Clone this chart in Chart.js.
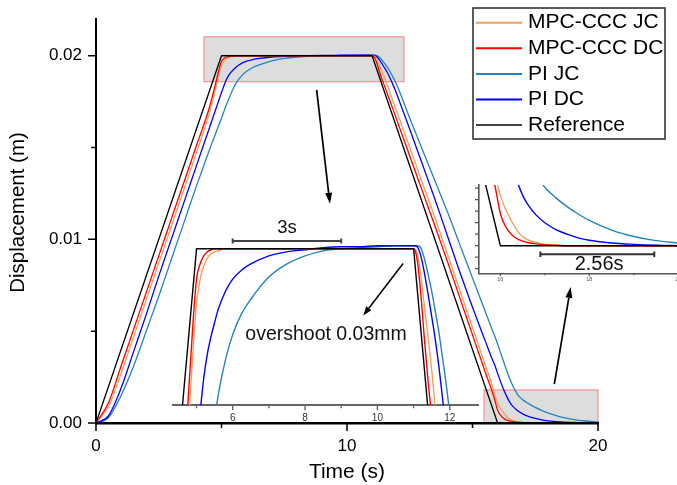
<!DOCTYPE html>
<html><head><meta charset="utf-8">
<script src="https://cdn.jsdelivr.net/npm/chart.js@4.4.1/dist/chart.umd.min.js"></script>
<style>
html,body{margin:0;padding:0;background:#fff;overflow:hidden;width:677px;height:485px;}
#wrap{position:relative;width:677px;height:485px;overflow:hidden;}
canvas{position:absolute;}
</style></head><body>
<div id="wrap">
<canvas id="main" width="677" height="485" style="left:0;top:0;width:677px;height:485px"></canvas>
<canvas id="inset1" width="350" height="240" style="left:150px;top:200px;width:350px;height:240px"></canvas>
<canvas id="inset2" width="250" height="140" style="left:440px;top:160px;width:250px;height:140px"></canvas>
</div>
<script>
const FONT = "'Liberation Sans', Arial, sans-serif";

// ---------- data (time in s, displacement in m) ----------
const time = [0, 0.5, 1, 1.5, 2, 2.5, 3, 3.5, 4, 4.5,
  4.75, 4.9, 5, 5.1, 5.2, 5.3, 5.4, 5.5, 5.6, 5.8,
  6, 6.25, 6.5, 7, 7.5, 8, 8.5, 9, 9.5, 10, 10.5, 11,
  11.1, 11.2, 11.3, 11.4, 11.5, 11.6, 11.7, 11.8, 11.9, 12,
  12.5, 13, 13.5, 14, 14.5, 15, 15.5, 15.75, 15.9, 16,
  16.1, 16.2, 16.3, 16.4, 16.5, 16.6, 16.8, 17, 17.25, 17.5, 17.75, 18, 18.5, 19, 19.5, 20];

const mpcDC = [0, 0.0011, 0.0031, 0.0051, 0.0071, 0.0091, 0.0111, 0.0131, 0.0151, 0.0171,
  0.0184, 0.01925, 0.0197, 0.01985, 0.01993, 0.01997, 0.01999, 0.02, 0.02, 0.02,
  0.02, 0.02, 0.02, 0.02, 0.02, 0.02, 0.02, 0.02, 0.02, 0.02, 0.02, 0.02,
  0.01989, 0.01955, 0.0191, 0.01869, 0.01834, 0.01796, 0.01758, 0.0172, 0.01682, 0.01644,
  0.01454, 0.01264, 0.01074, 0.0088, 0.0068, 0.0048, 0.0028, 0.00185, 0.0012, 0.0007,
  0.00045, 0.0003, 0.0002, 0.00014, 0.0001, 0.00007, 0.00004, 0.00002, 0.00001, 0, 0, 0, 0, 0, 0, 0];

const mpcJC = [0, 0.0009, 0.0027, 0.0047, 0.0067, 0.0087, 0.0107, 0.0127, 0.0147, 0.0168,
  0.0181, 0.01898, 0.01946, 0.0197, 0.01983, 0.01991, 0.01995, 0.01997, 0.01998, 0.02,
  0.02, 0.02, 0.02, 0.02, 0.02, 0.02, 0.02, 0.02, 0.02, 0.02, 0.02, 0.02,
  0.01996, 0.01973, 0.01943, 0.01913, 0.0188, 0.01842, 0.01804, 0.01766, 0.01728, 0.0169,
  0.015, 0.0131, 0.0112, 0.0092, 0.0072, 0.0052, 0.0032, 0.0022, 0.00148, 0.0011,
  0.00083, 0.00063, 0.00045, 0.0003, 0.0002, 0.00014, 0.00007, 0.00003, 0.00001, 0, 0, 0, 0, 0, 0, 0];

const piDC = [0, 0.0004, 0.0019, 0.0039, 0.0059, 0.008, 0.01, 0.012, 0.014, 0.016,
  0.017, 0.0176, 0.018, 0.01838, 0.01872, 0.01896, 0.01913, 0.01927, 0.0194, 0.01958,
  0.0197, 0.01979, 0.01985, 0.01993, 0.01997, 0.01999, 0.02001, 0.02002, 0.02002, 0.02003, 0.02003, 0.02003,
  0.02002, 0.01993, 0.01976, 0.01955, 0.01933, 0.0191, 0.01883, 0.01852, 0.0182, 0.01785,
  0.016, 0.0141, 0.0122, 0.0102, 0.0082, 0.0063, 0.0045, 0.0036, 0.0031, 0.0027,
  0.00232, 0.00196, 0.00163, 0.00134, 0.0011, 0.00092, 0.00067, 0.0005, 0.00035, 0.00025, 0.00017, 0.00012, 0.00006, 0.00003, 0.00001, 0];

const piJC = [0, 0.0003, 0.0015, 0.0031, 0.005, 0.0069, 0.0089, 0.0109, 0.0129, 0.0148,
  0.0157, 0.01625, 0.0166, 0.01698, 0.01735, 0.01768, 0.018, 0.0183, 0.01855, 0.0189,
  0.01915, 0.01936, 0.0195, 0.01972, 0.01985, 0.01993, 0.01998, 0.02, 0.02001, 0.02002, 0.02003, 0.02003,
  0.02003, 0.02001, 0.0199, 0.01975, 0.01958, 0.01938, 0.01917, 0.01892, 0.01866, 0.01836,
  0.0166, 0.0149, 0.0132, 0.0115, 0.0097, 0.0079, 0.0061, 0.0052, 0.00468, 0.0043,
  0.0039, 0.0035, 0.0031, 0.0027, 0.00236, 0.00204, 0.00155, 0.00127, 0.00104, 0.00085, 0.00069, 0.00055, 0.00034, 0.0002, 0.00011, 0.00006];

const refTime = [0, 5, 11, 16, 20];
const refDisp = [0, 0.02, 0.02, 0, 0];

const seriesNames = ['MPC-CCC JC', 'MPC-CCC DC', 'PI JC', 'PI DC', 'Reference'];
const seriesColors = ['#f5a05a', '#ff0000', '#2283c0', '#0000ff', '#000000'];

// ticks
const xMajor = [0, 10, 20], xMinor = [5, 15];
const yMajor = [0, 0.01, 0.02], yMinor = [0.005, 0.015];
const inset1Major = [6, 8, 10, 12], inset1Minor = [5, 7, 9, 11];
const inset2XMajor = [16, 18, 20], inset2XMinor = [17, 19];
const inset2YTicks = [-0.0005, -0.00025, 0, 0.00025, 0.0005, 0.00075, 0.001, 0.00125];

// zoom regions [tStart, tEnd, dispLow, dispHigh]
const zoomBox1 = [4.3, 12.27, 0.01859, 0.02103];
const zoomBox2 = [15.46, 20, 0, 0.0018];

// annotations (data coordinates)
const arrowMain1 = [8.79, 0.01814, 9.32, 0.01194];
const arrowMain2 = [18.26, 0.00212, 18.91, 0.00741];
const bar3s = {from: 6, to: 9, at: 0.020077, label: '3s', labelX: 7.5, labelY: 0.020206};
const overshootNote = {text: 'overshoot 0.03mm', x: 8.58, y: 0.01915, from: [10.71, 0.019855], to: [9.61, 0.01934]};
const bar256 = {from: 16.9, to: 19.46, at: -0.000187, label: '2.56s', labelX: 18.22, labelY: -0.000408};

// ---------- helpers ----------
function pts(t, v) { return t.map((x, i) => ({x: x, y: v[i]})); }

function makeDatasets(lw) {
  const list = [
    {label: 'Reference', data: pts(refTime, refDisp), color: seriesColors[4], mono: false},
    {label: 'MPC-CCC DC', data: pts(time, mpcDC), color: seriesColors[1], mono: true},
    {label: 'MPC-CCC JC', data: pts(time, mpcJC), color: seriesColors[0], mono: true},
    {label: 'PI DC', data: pts(time, piDC), color: seriesColors[3], mono: true},
    {label: 'PI JC', data: pts(time, piJC), color: seriesColors[2], mono: true}
  ];
  return list.map(s => ({
    label: s.label, data: s.data, borderColor: s.color, backgroundColor: s.color,
    borderWidth: lw, pointRadius: 0, fill: false, tension: 0,
    cubicInterpolationMode: s.mono ? 'monotone' : 'default'
  }));
}

function zeroPad(s) { s.paddingLeft = 0; s.paddingRight = 0; s.paddingTop = 0; s.paddingBottom = 0; }

function arrow(ctx, x1, y1, x2, y2, head, half, lw) {
  const a = Math.atan2(y2 - y1, x2 - x1);
  const bx = x2 - head * Math.cos(a), by = y2 - head * Math.sin(a);
  ctx.save();
  ctx.strokeStyle = '#000'; ctx.fillStyle = '#000'; ctx.lineWidth = lw;
  ctx.beginPath(); ctx.moveTo(x1, y1); ctx.lineTo(bx, by); ctx.stroke();
  ctx.beginPath(); ctx.moveTo(x2, y2);
  ctx.lineTo(bx + half * Math.sin(a), by - half * Math.cos(a));
  ctx.lineTo(bx - half * Math.sin(a), by + half * Math.cos(a));
  ctx.closePath(); ctx.fill();
  ctx.restore();
}

function hbar(ctx, x1, x2, y, cap, color, lw) {
  ctx.save();
  ctx.strokeStyle = color; ctx.lineWidth = lw;
  ctx.beginPath();
  ctx.moveTo(x1, y); ctx.lineTo(x2, y);
  ctx.moveTo(x1, y - cap); ctx.lineTo(x1, y + cap);
  ctx.moveTo(x2, y - cap); ctx.lineTo(x2, y + cap);
  ctx.stroke();
  ctx.restore();
}

function text(ctx, str, x, y, size, color, align) {
  ctx.save();
  ctx.font = size + 'px ' + FONT;
  ctx.fillStyle = color; ctx.textAlign = align || 'center'; ctx.textBaseline = 'middle';
  ctx.fillText(str, x, y);
  ctx.restore();
}

// ---------- main chart ----------
const mainDecor = {
  id: 'mainDecor',
  beforeDatasetsDraw(chart) {
    const {ctx, scales: {x, y}} = chart;
    ctx.save();
    for (const b of [zoomBox1, zoomBox2]) {
      const l = x.getPixelForValue(b[0]), r = x.getPixelForValue(b[1]);
      const t = y.getPixelForValue(b[3]), btm = y.getPixelForValue(b[2]);
      ctx.fillStyle = '#dddddd';
      ctx.fillRect(l, t, r - l, btm - t);
      ctx.strokeStyle = '#f39a9a';
      ctx.lineWidth = 1.3;
      ctx.strokeRect(l, t, r - l, btm - t);
    }
    ctx.restore();
  },
  afterDraw(chart) {
    const {ctx, chartArea: ca, scales: {x, y}} = chart;
    ctx.save();
    ctx.strokeStyle = '#000'; ctx.lineWidth = 1.5;
    ctx.beginPath();
    xMajor.forEach(v => { const p = x.getPixelForValue(v); ctx.moveTo(p, ca.bottom); ctx.lineTo(p, ca.bottom + 8); });
    xMinor.forEach(v => { const p = x.getPixelForValue(v); ctx.moveTo(p, ca.bottom); ctx.lineTo(p, ca.bottom + 5); });
    yMajor.forEach(v => { const p = y.getPixelForValue(v); ctx.moveTo(ca.left, p); ctx.lineTo(ca.left - 8, p); });
    yMinor.forEach(v => { const p = y.getPixelForValue(v); ctx.moveTo(ca.left, p); ctx.lineTo(ca.left - 5, p); });
    ctx.stroke();
    ctx.restore();

    // y title
    ctx.save();
    ctx.translate(18, 212.5);
    ctx.rotate(-Math.PI / 2);
    ctx.font = '20.5px ' + FONT; ctx.fillStyle = '#000';
    ctx.textAlign = 'center'; ctx.textBaseline = 'middle';
    ctx.fillText('Displacement (m)', 0, 0);
    ctx.restore();

    // arrows
    arrow(ctx, x.getPixelForValue(arrowMain1[0]), y.getPixelForValue(arrowMain1[1]),
      x.getPixelForValue(arrowMain1[2]), y.getPixelForValue(arrowMain1[3]), 11, 3.5, 1.7);
    arrow(ctx, x.getPixelForValue(arrowMain2[0]), y.getPixelForValue(arrowMain2[1]),
      x.getPixelForValue(arrowMain2[2]), y.getPixelForValue(arrowMain2[3]), 11, 3.5, 1.7);

    // legend
    const L = 473, T = 8, W = 192, H = 131;
    ctx.save();
    ctx.fillStyle = '#fff'; ctx.fillRect(L, T, W, H);
    ctx.strokeStyle = '#333'; ctx.lineWidth = 1.6; ctx.strokeRect(L, T, W, H);
    seriesNames.forEach((name, i) => {
      const yy = 22.7 + i * 25.6;
      ctx.strokeStyle = i === 4 ? '#444' : seriesColors[i]; ctx.lineWidth = 2;
      ctx.beginPath(); ctx.moveTo(476, yy); ctx.lineTo(522, yy); ctx.stroke();
      text(ctx, name, 528, yy, 21, '#000', 'left');
    });
    ctx.restore();
  }
};

new Chart(document.getElementById('main'), {
  type: 'line',
  data: {datasets: makeDatasets(1.3)},
  options: {
    responsive: false, animation: false, devicePixelRatio: 1,
    layout: {padding: {top: 19, right: 79, bottom: 0, left: 0}},
    plugins: {legend: {display: false}, tooltip: {enabled: false}},
    scales: {
      x: {
        type: 'linear', min: 0, max: 20, bounds: 'data',
        afterBuildTicks: s => { s.ticks = xMajor.map(v => ({value: v})); },
        afterFit: s => { s.height = 62; zeroPad(s); },
        grid: {display: false, drawTicks: false},
        border: {display: true, color: '#000', width: 2.5, z: 1},
        ticks: {autoSkip: false, maxRotation: 0, padding: 13, color: '#000', font: {family: FONT, size: 17}, callback: v => String(v)},
        title: {display: true, text: 'Time (s)', color: '#000', font: {family: FONT, size: 21}, padding: 0}
      },
      y: {
        type: 'linear', min: 0, max: 0.022, bounds: 'data',
        afterBuildTicks: s => { s.ticks = yMajor.map(v => ({value: v})); },
        afterFit: s => { s.width = 96; zeroPad(s); },
        grid: {display: false, drawTicks: false},
        border: {display: true, color: '#000', width: 2, z: 1},
        ticks: {autoSkip: false, padding: 14, color: '#000', font: {family: FONT, size: 17}, callback: v => Number(v).toFixed(2)}
      }
    }
  },
  plugins: [mainDecor]
});

// ---------- inset 1 (plateau zoom) ----------
const inset1Decor = {
  id: 'inset1Decor',
  afterDraw(chart) {
    const {ctx, chartArea: ca, scales: {x, y}} = chart;
    ctx.save();
    ctx.strokeStyle = '#666'; ctx.lineWidth = 1.4;
    ctx.beginPath();
    inset1Major.forEach(v => { const p = x.getPixelForValue(v); ctx.moveTo(p, ca.bottom); ctx.lineTo(p, ca.bottom + 5); });
    inset1Minor.forEach(v => { const p = x.getPixelForValue(v); ctx.moveTo(p, ca.bottom); ctx.lineTo(p, ca.bottom + 3); });
    ctx.stroke();
    ctx.restore();

    hbar(ctx, x.getPixelForValue(bar3s.from), x.getPixelForValue(bar3s.to), y.getPixelForValue(bar3s.at), 2.5, '#444', 2);
    text(ctx, bar3s.label, x.getPixelForValue(bar3s.labelX), y.getPixelForValue(bar3s.labelY), 18.5, '#111');

    arrow(ctx, x.getPixelForValue(overshootNote.from[0]), y.getPixelForValue(overshootNote.from[1]),
      x.getPixelForValue(overshootNote.to[0]), y.getPixelForValue(overshootNote.to[1]), 9, 3.2, 1.5);
    text(ctx, overshootNote.text, x.getPixelForValue(overshootNote.x), y.getPixelForValue(overshootNote.y), 19.5, '#111');
  }
};

new Chart(document.getElementById('inset1'), {
  type: 'line',
  data: {datasets: makeDatasets(1.4)},
  options: {
    responsive: false, animation: false, devicePixelRatio: 1,
    layout: {padding: {left: 23, right: 22, top: 38.7, bottom: 14.7}},
    plugins: {legend: {display: false}, tooltip: {enabled: false}},
    scales: {
      x: {
        type: 'linear', min: 4.35, max: 12.78, bounds: 'data',
        afterBuildTicks: s => { s.ticks = inset1Major.map(v => ({value: v})); },
        afterFit: s => { s.height = 20; zeroPad(s); },
        grid: {display: false, drawTicks: false},
        border: {display: true, color: '#666', width: 2},
        ticks: {autoSkip: false, maxRotation: 0, padding: 7, color: '#333', font: {family: FONT, size: 10}, callback: v => String(v)}
      },
      y: {type: 'linear', display: false, min: 0.01845, max: 0.0201, bounds: 'data'}
    }
  },
  plugins: [inset1Decor]
});

// ---------- inset 2 (settling zoom) ----------
const inset2Decor = {
  id: 'inset2Decor',
  afterDraw(chart) {
    const {ctx, chartArea: ca, scales: {x, y}} = chart;
    ctx.save();
    ctx.strokeStyle = '#555'; ctx.lineWidth = 1.2;
    ctx.beginPath();
    inset2YTicks.forEach(v => { const p = y.getPixelForValue(v); ctx.moveTo(ca.left, p); ctx.lineTo(ca.left - 4, p); });
    inset2XMajor.forEach(v => { const p = x.getPixelForValue(v); ctx.moveTo(p, ca.bottom); ctx.lineTo(p, ca.bottom + 3); });
    inset2XMinor.forEach(v => { const p = x.getPixelForValue(v); ctx.moveTo(p, ca.bottom); ctx.lineTo(p, ca.bottom + 2); });
    ctx.stroke();
    ctx.restore();

    hbar(ctx, x.getPixelForValue(bar256.from), x.getPixelForValue(bar256.to), y.getPixelForValue(bar256.at), 2.7, '#333', 2);
    text(ctx, bar256.label, x.getPixelForValue(bar256.labelX), y.getPixelForValue(bar256.labelY), 20, '#111');
  }
};

new Chart(document.getElementById('inset2'), {
  type: 'line',
  data: {datasets: makeDatasets(1.4)},
  options: {
    responsive: false, animation: false, devicePixelRatio: 1,
    layout: {padding: {left: 29, right: 11.7, top: 25, bottom: 14.7}},
    plugins: {legend: {display: false}, tooltip: {enabled: false}},
    scales: {
      x: {
        type: 'linear', min: 15.52, max: 20, bounds: 'data',
        afterBuildTicks: s => { s.ticks = inset2XMajor.map(v => ({value: v})); },
        afterFit: s => { s.height = 12; zeroPad(s); },
        grid: {display: false, drawTicks: false},
        border: {display: true, color: '#555', width: 1.6},
        ticks: {autoSkip: false, maxRotation: 0, padding: 3, color: '#555', font: {family: FONT, size: 5.5}, callback: v => String(v)}
      },
      y: {
        type: 'linear', min: -0.0006, max: 0.00132, bounds: 'data',
        afterFit: s => { s.width = 10; zeroPad(s); },
        grid: {display: false, drawTicks: false},
        border: {display: true, color: '#555', width: 1.6},
        ticks: {display: false}
      }
    }
  },
  plugins: [inset2Decor]
});
</script>
</body></html>
